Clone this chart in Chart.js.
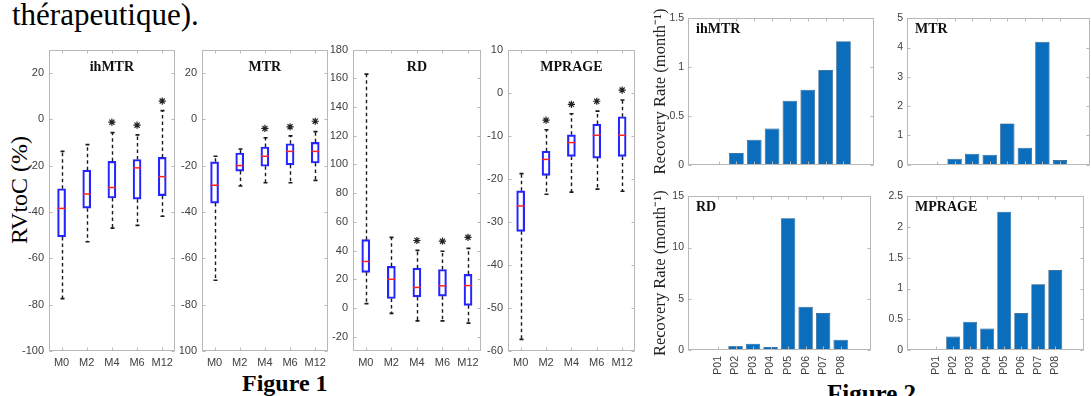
<!DOCTYPE html>
<html>
<head>
<meta charset="utf-8">
<script src="https://cdn.jsdelivr.net/npm/chart.js@4.4.1/dist/chart.umd.min.js"></script>
<style>
  body { margin: 0; width: 1091px; height: 396px; background: #fff; position: relative; overflow: hidden; }
  canvas { position: absolute; }
  .txt { position: absolute; color: #000; white-space: nowrap; font-family: 'Liberation Serif', 'Times New Roman', serif; line-height: 1; }
  .rot { transform-origin: 0 0; transform: rotate(-90deg); }
</style>
</head>
<body>
<div class="txt" style="left:12px; top:-1px; font-size:31px;">thérapeutique).</div>
<div class="txt rot" style="left:7px; top:244px; font-size:24px;">RVtoC (%)</div>
<div class="txt" style="left:242px; top:371px; font-size:24px; font-weight:bold;">Figure 1</div>
<div class="txt" style="left:827px; top:381px; font-size:25px; font-weight:bold;">Figure 2</div>

<canvas id="boxIhmtr" width="176" height="335" style="left:4px; top:38px"></canvas>
<canvas id="boxMtr" width="153" height="335" style="left:180px; top:38px"></canvas>
<canvas id="boxRd" width="155" height="335" style="left:331px; top:38px"></canvas>
<canvas id="boxMprage" width="154" height="335" style="left:486px; top:38px"></canvas>

<canvas id="rateIhmtr" width="229" height="167" style="left:648px; top:8px"></canvas>
<canvas id="rateMtr" width="211" height="167" style="left:880px; top:8px"></canvas>
<canvas id="rateRd" width="229" height="194" style="left:648px; top:186px"></canvas>
<canvas id="rateMprage" width="211" height="194" style="left:880px; top:186px"></canvas>

<script>
// Figure 1: relative value to control, per time point
const timepoints = ['M0', 'M2', 'M4', 'M6', 'M12'];

const ihmtrMin = [-77.4, -52.9, -47, -45.8, -41.9];
const ihmtrQ1 = [-50.8, -38.4, -34, -34.5, -33];
const ihmtrMed = [-38.5, -32.3, -29.5, -21, -24.8];
const ihmtrQ3 = [-30, -22, -18.2, -17.4, -16.5];
const ihmtrMax = [-13.9, -11, -5.8, -6.8, 3.7];
const ihmtrStar = [null, null, -1.3, -2.6, 7.8];

const mtrMin = [-69.5, -28.8, -27.4, -27.4, -26.4];
const mtrQ1 = [-36.2, -22.4, -20.3, -19.7, -18.9];
const mtrMed = [-28.5, -20, -16, -13.9, -13.9];
const mtrQ3 = [-18.4, -14.6, -12, -10.6, -10];
const mtrMax = [-16, -12.9, -8, -7.2, -5.4];
const mtrStar = [null, null, -4, -3.3, -0.9];

const rdMin = [3, -3.8, -9, -9, -10.6];
const rdQ1 = [24.8, 6.6, 7.7, 8.2, 1.8];
const rdMed = [32.4, 20, 14.3, 15.4, 15.6];
const rdQ3 = [47.6, 29, 27.7, 26.8, 23.4];
const rdMax = [162.9, 49.2, 40.1, 39.5, 41.5];
const rdStar = [null, null, 47, 46.5, 49.2];

const mprageMin = [-57.3, -23.6, -23.1, -22.4, -22.9];
const mprageQ1 = [-32.2, -19.2, -14.8, -15.2, -14.8];
const mprageMed = [-26.3, -15.5, -11.6, -9.9, -9.9];
const mprageQ3 = [-22.8, -13.6, -9.8, -7.3, -5.6];
const mprageMax = [-18.8, -8.6, -4.9, -4.3, -1.7];
const mprageStar = [null, -6.4, -2.7, -2.0, 0.6];

// Figure 2: recovery rate per patient
const patients = ['P01', 'P02', 'P03', 'P04', 'P05', 'P06', 'P07', 'P08'];
const rateIhmtr = [0, 0.12, 0.255, 0.37, 0.655, 0.767, 0.97, 1.266];
const rateMtr = [0, 0.2, 0.37, 0.34, 1.41, 0.58, 4.2, 0.16];
const rateRd = [0, 0.4, 0.62, 0.3, 12.85, 4.22, 3.6, 1.0];
const rateMprage = [0, 0.22, 0.46, 0.35, 2.25, 0.6, 1.07, 1.3];

Chart.defaults.font.family = "'Liberation Sans', Arial, sans-serif";
Chart.defaults.color = '#404040';
Chart.defaults.animation = false;

// matlab style axes: grey box, inward ticks, title inside the box
const matlabFrame = {
    id: 'matlabFrame',
    afterDraw(chart, args, opts) {
        const ctx = chart.ctx;
        const a = chart.chartArea;
        const yScale = chart.scales.y;
        const xs = chart.getDatasetMeta(0).data.map(el => el.x);
        const L = Math.round(a.left) + 0.5, R = Math.round(a.right) - 0.5;
        const T = Math.round(a.top) + 0.5, B = Math.round(a.bottom) - 0.5;
        ctx.save();
        ctx.strokeStyle = '#b8b8b8';
        ctx.lineWidth = 1;
        ctx.strokeRect(L, T, R - L, B - T);
        ctx.beginPath();
        yScale.ticks.forEach(t => {
            const py = Math.round(yScale.getPixelForValue(t.value)) + 0.5;
            ctx.moveTo(L, py); ctx.lineTo(L + 3, py);
            ctx.moveTo(R, py); ctx.lineTo(R - 3, py);
        });
        xs.forEach(x => {
            const px = Math.round(x) + 0.5;
            ctx.moveTo(px, B); ctx.lineTo(px, B - 3);
            ctx.moveTo(px, T); ctx.lineTo(px, T + 3);
        });
        ctx.stroke();
        if (opts.title) {
            ctx.fillStyle = '#111';
            ctx.font = "bold 14px 'Liberation Serif', 'Times New Roman', serif";
            ctx.textBaseline = 'middle';
            if (opts.align === 'left') {
                ctx.textAlign = 'left';
                ctx.fillText(opts.title, a.left + 8, a.top + 11);
            } else {
                ctx.textAlign = 'center';
                ctx.fillText(opts.title, (a.left + a.right) / 2, a.top + 18);
            }
        }
        ctx.restore();
    }
};
Chart.register(matlabFrame);

// dashed whiskers, caps and red median on top of the floating box bars
function whiskerPlugin(mins, meds, maxs, q1s, q3s) {
    return {
        id: 'whiskers',
        afterDatasetsDraw(chart) {
            const ctx = chart.ctx;
            const y = chart.scales.y;
            const boxes = chart.getDatasetMeta(0).data;
            ctx.save();
            boxes.forEach((bar, i) => {
                const x = Math.round(bar.x) + 0.5;
                const half = bar.width / 2;
                ctx.strokeStyle = '#1a1a1a';
                ctx.lineWidth = 1.4;
                ctx.setLineDash([3.5, 3]);
                ctx.beginPath();
                ctx.moveTo(x, y.getPixelForValue(q3s[i]));
                ctx.lineTo(x, y.getPixelForValue(maxs[i]));
                ctx.moveTo(x, y.getPixelForValue(q1s[i]));
                ctx.lineTo(x, y.getPixelForValue(mins[i]));
                ctx.stroke();
                ctx.setLineDash([]);
                ctx.lineWidth = 1.6;
                ctx.beginPath();
                [maxs[i], mins[i]].forEach(v => {
                    const py = y.getPixelForValue(v);
                    ctx.moveTo(x - 2, py); ctx.lineTo(x + 2, py);
                });
                ctx.stroke();
                ctx.strokeStyle = '#ff2020';
                ctx.lineWidth = 1.5;
                ctx.beginPath();
                const pm = y.getPixelForValue(meds[i]);
                ctx.moveTo(bar.x - half, pm); ctx.lineTo(bar.x + half, pm);
                ctx.stroke();
            });
            ctx.restore();
        }
    };
}

function boxChart(id, name, mins, q1s, meds, q3s, maxs, stars, yMin, yMax, yStep, yWidth) {
    new Chart(document.getElementById(id), {
        type: 'bar',
        data: {
            labels: timepoints,
            datasets: [
                {
                    data: q1s.map((q, i) => [q, q3s[i]]),
                    backgroundColor: 'rgba(0,0,0,0)',
                    borderColor: '#2424ff',
                    borderWidth: 1.5,
                    borderSkipped: false,
                    barThickness: 8
                },
                {
                    type: 'line',
                    data: stars,
                    showLine: false,
                    pointStyle: 'star',
                    pointRadius: 3.6,
                    borderColor: '#222',
                    borderWidth: 1.2
                }
            ]
        },
        options: {
            responsive: false,
            layout: { padding: { top: 5, right: 3, left: 0, bottom: 0 } },
            plugins: {
                legend: { display: false },
                tooltip: { enabled: false },
                matlabFrame: { title: name, align: 'center' }
            },
            scales: {
                x: {
                    grid: { display: false, drawTicks: false },
                    border: { display: false },
                    afterFit: s => { s.height = 22; },
                    ticks: { padding: 5, font: { size: 11 }, maxRotation: 0 }
                },
                y: {
                    min: yMin,
                    max: yMax,
                    grid: { display: false, drawTicks: false },
                    border: { display: false },
                    afterFit: s => { s.width = yWidth; },
                    ticks: { stepSize: yStep, includeBounds: false, padding: 5, font: { size: 11 }, callback: v => String(v) }
                }
            }
        },
        plugins: [whiskerPlugin(mins, meds, maxs, q1s, q3s)]
    });
}

function rateChart(id, name, values, yMax, yStep, yWidth, showX, showTitle) {
    new Chart(document.getElementById(id), {
        type: 'bar',
        data: {
            datasets: [{
                data: values.map((v, i) => ({ x: i + 1, y: v })),
                backgroundColor: '#0b6ebd',
                borderColor: '#1c4f7c',
                borderWidth: 0.7,
                barPercentage: 0.82,
                categoryPercentage: 1
            }]
        },
        options: {
            responsive: false,
            layout: { padding: { top: 7, right: yWidth === 27 ? 1 : 3, left: 0, bottom: 0 } },
            plugins: {
                legend: { display: false },
                tooltip: { enabled: false },
                matlabFrame: { title: name, align: 'left' }
            },
            scales: {
                x: {
                    type: 'linear',
                    min: -0.19,
                    max: 9.19,
                    grid: { display: false, drawTicks: false },
                    border: { display: false },
                    afterFit: s => { s.height = showX ? 30 : 4; },
                    ticks: {
                        display: showX,
                        stepSize: 1,
                        includeBounds: false,
                        autoSkip: false,
                        minRotation: 90,
                        maxRotation: 90,
                        padding: 6,
                        font: { size: 10.5 },
                        callback: v => patients[v - 1] || ''
                    }
                },
                y: {
                    min: 0,
                    max: yMax,
                    grid: { display: false, drawTicks: false },
                    border: { display: false },
                    afterFit: s => { s.width = yWidth; },
                    title: {
                        display: showTitle,
                        text: 'Recovery Rate (month⁻¹)',
                        color: '#222',
                        padding: { top: 3, bottom: 0 },
                        font: { family: "'Liberation Serif', 'Times New Roman', serif", size: 16.5 }
                    },
                    ticks: { stepSize: yStep, padding: 4, font: { size: 10.5 }, callback: v => String(v) }
                }
            }
        }
    });
}

boxChart('boxIhmtr', 'ihMTR', ihmtrMin, ihmtrQ1, ihmtrMed, ihmtrQ3, ihmtrMax, ihmtrStar, -100, 30, 20, 45);
boxChart('boxMtr', 'MTR', mtrMin, mtrQ1, mtrMed, mtrQ3, mtrMax, mtrStar, -100, 30, 20, 22);
boxChart('boxRd', 'RD', rdMin, rdQ1, rdMed, rdQ3, rdMax, rdStar, -30, 180, 20, 22);
boxChart('boxMprage', 'MPRAGE', mprageMin, mprageQ1, mprageMed, mprageQ3, mprageMax, mprageStar, -60, 10, 10, 22);

rateChart('rateIhmtr', 'ihMTR', rateIhmtr, 1.5, 0.5, 40, false, true);
rateChart('rateMtr', 'MTR', rateMtr, 5, 1, 27, false, false);
rateChart('rateRd', 'RD', rateRd, 15, 5, 40, true, true);
rateChart('rateMprage', 'MPRAGE', rateMprage, 2.5, 0.5, 27, true, false);
</script>
</body>
</html>
